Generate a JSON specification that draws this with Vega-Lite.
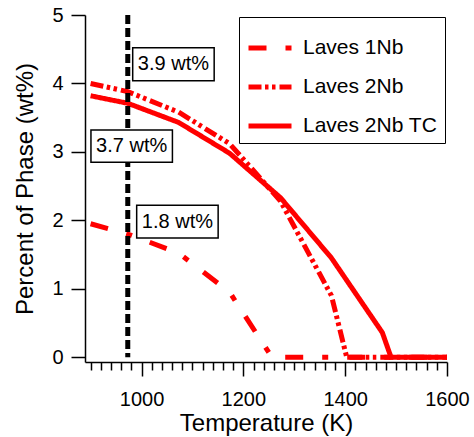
{
  "$schema": "https://vega.github.io/schema/vega-lite/v6.json",
  "width": 362,
  "height": 347,
  "autosize": {"type": "none"},
  "padding": {"left": 85, "top": 15, "right": 27, "bottom": 75},
  "background": "white",
  "config": {
    "view": {"stroke": null},
    "font": "Liberation Sans",
    "axis": {"grid": false, "domainColor": "black", "tickColor": "black", "labelColor": "black", "titleColor": "black", "domainWidth": 1.5, "tickWidth": 1.5, "labelFont": "Liberation Sans", "titleFont": "Liberation Sans", "titleFontWeight": "normal"}
  },
  "datasets": {
    "curves": [
      {"series": "Laves 1Nb", "T": 900, "pct": 1.95},
      {"series": "Laves 1Nb", "T": 973, "pct": 1.8},
      {"series": "Laves 1Nb", "T": 1073, "pct": 1.52},
      {"series": "Laves 1Nb", "T": 1173, "pct": 0.95},
      {"series": "Laves 1Nb", "T": 1256, "pct": 0},
      {"series": "Laves 1Nb", "T": 1600, "pct": 0},
      {"series": "Laves 2Nb", "T": 900, "pct": 4.0},
      {"series": "Laves 2Nb", "T": 973, "pct": 3.88},
      {"series": "Laves 2Nb", "T": 1073, "pct": 3.58},
      {"series": "Laves 2Nb", "T": 1173, "pct": 3.12},
      {"series": "Laves 2Nb", "T": 1273, "pct": 2.28},
      {"series": "Laves 2Nb", "T": 1373, "pct": 0.9},
      {"series": "Laves 2Nb", "T": 1403, "pct": 0},
      {"series": "Laves 2Nb", "T": 1600, "pct": 0},
      {"series": "Laves 2Nb TC", "T": 900, "pct": 3.82},
      {"series": "Laves 2Nb TC", "T": 973, "pct": 3.71},
      {"series": "Laves 2Nb TC", "T": 1073, "pct": 3.43},
      {"series": "Laves 2Nb TC", "T": 1173, "pct": 2.98},
      {"series": "Laves 2Nb TC", "T": 1273, "pct": 2.33},
      {"series": "Laves 2Nb TC", "T": 1373, "pct": 1.45},
      {"series": "Laves 2Nb TC", "T": 1473, "pct": 0.36},
      {"series": "Laves 2Nb TC", "T": 1490, "pct": 0},
      {"series": "Laves 2Nb TC", "T": 1600, "pct": 0}
    ],
    "notes": [
      {"label": "3.9 wt%", "x1": 982.7, "x2": 1142.7, "y1": 4.04, "y2": 4.52, "tx": 1062.7, "ty": 4.28},
      {"label": "3.7 wt%", "x1": 900.7, "x2": 1060.7, "y1": 2.85, "y2": 3.32, "tx": 980.7, "ty": 3.085},
      {"label": "1.8 wt%", "x1": 990.5, "x2": 1150.5, "y1": 1.74, "y2": 2.22, "tx": 1070.5, "ty": 1.98}
    ]
  },
  "layer": [
    {
      "data": {"name": "curves"},
      "mark": {"type": "line", "color": "#ff0000", "strokeWidth": 5, "clip": true},
      "encoding": {
        "x": {"field": "T", "type": "quantitative",
          "scale": {"domain": [889, 1600], "nice": false, "zero": false},
          "axis": {
            "title": "Temperature (K)", "titleFontSize": 24, "titlePadding": 2,
            "tickCount": 100,
            "values": [900,920,940,960,980,1000,1020,1040,1060,1080,1100,1120,1140,1160,1180,1200,1220,1240,1260,1280,1300,1320,1340,1360,1380,1400,1420,1440,1460,1480,1500,1520,1540,1560,1580,1600],
            "labelExpr": "datum.value % 200 === 0 ? datum.label : ''",
            "format": "d",
            "labelFontSize": 20, "labelPadding": 13, "labelFlush": false, "labelOverlap": false,
            "tickSize": {"condition": {"test": "datum.value % 200 === 0", "value": 14}, "value": 8}
          }
        },
        "y": {"field": "pct", "type": "quantitative",
          "scale": {"domain": [-0.07, 5], "nice": false, "zero": false},
          "axis": {"title": "Percent of Phase (wt%)", "titleFontSize": 24, "titlePadding": 14,
            "values": [0,1,2,3,4,5], "format": "d", "labelFontSize": 20, "labelPadding": 8, "tickSize": 14}
        },
        "strokeDash": {"field": "series", "type": "nominal",
          "scale": {"domain": ["Laves 1Nb", "Laves 2Nb", "Laves 2Nb TC"], "range": [[18,19,6,19],[13,3.5,3.5,3.5,3.5,4],[1,0]]},
          "legend": {"title": null, "orient": "none", "legendX": 154, "legendY": 2,
            "symbolType": "stroke", "symbolSize": 1849, "symbolStrokeWidth": 5, "symbolStrokeColor": "#ff0000",
            "labelFontSize": 21, "labelFont": "Liberation Sans", "labelColor": "black", "labelOffset": 9,
            "rowPadding": 5, "padding": 7, "strokeColor": "black", "fillColor": "white", "labelLimit": 300}
        }
      }
    },
    {
      "data": {"values": [{"T": 973}]},
      "mark": {"type": "rule", "color": "black", "strokeWidth": 5, "strokeDash": [9, 4]},
      "encoding": {"x": {"field": "T", "type": "quantitative"}, "y": {"datum": 5}, "y2": {"datum": 0}}
    },
    {
      "data": {"name": "notes"},
      "mark": {"type": "rect", "fill": "white", "stroke": "black", "strokeWidth": 1.5},
      "encoding": {
        "x": {"field": "x1", "type": "quantitative"}, "x2": {"field": "x2"},
        "y": {"field": "y1", "type": "quantitative"}, "y2": {"field": "y2"}
      }
    },
    {
      "data": {"name": "notes"},
      "mark": {"type": "text", "fontSize": 20, "font": "Liberation Sans", "color": "black", "align": "center", "baseline": "middle"},
      "encoding": {
        "x": {"field": "tx", "type": "quantitative"},
        "y": {"field": "ty", "type": "quantitative"},
        "text": {"field": "label"}
      }
    }
  ]
}
